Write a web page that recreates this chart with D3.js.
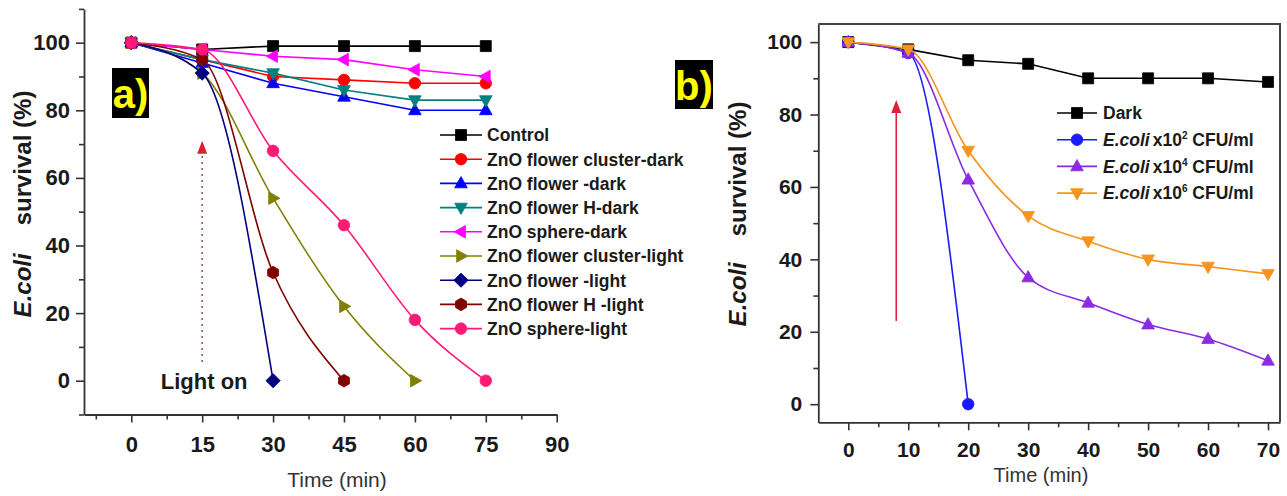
<!DOCTYPE html>
<html><head><meta charset="utf-8">
<script src="https://cdn.jsdelivr.net/npm/d3@7"></script>
<style>
body{margin:0;background:#fff;}
svg{display:block;background:#fff;}
text{font-family:"Liberation Sans",Arial,sans-serif;}
</style>
</head><body>
<svg id="chart" width="1287" height="496"></svg>
<script>
// ---------------- DATA : panel a ----------------
const timesA = [0, 15, 30, 45, 60, 75];
const control      = [100, 98, 99, 99, 99, 99];
const clusterDark  = [100, 95, 90, 89, 88, 88];
const flowerDark   = [100, 94, 88, 84, 80, 80];
const flowerHDark  = [100, 95, 91, 86, 83, 83];
const sphereDark   = [100, 98, 96, 95, 92, 90];
const clusterLight = [100, 91, 54, 22, 0];
const flowerLight  = [100, 91, 0];
const flowerHLight = [100, 95, 32, 0];
const sphereLight  = [100, 98, 68, 46, 18, 0];
const namesA = ["Control", "ZnO flower cluster-dark", "ZnO flower -dark", "ZnO flower H-dark",
  "ZnO sphere-dark", "ZnO flower cluster-light", "ZnO flower -light", "ZnO flower H -light", "ZnO sphere-light"];
const colorsA = ["#000000", "#ff0000", "#0000ff", "#008080", "#ff00ff", "#808000", "#000080", "#800000", "#ff1a75"];
const markersA = ["square", "circle", "up", "down", "left", "right", "diamond", "hexagon", "circle"];
const smoothA = [false, false, false, false, false, true, true, true, true];
const tickAX = [0, 15, 30, 45, 60, 75, 90];
const minorAX = [-7.5, 7.5, 22.5, 37.5, 52.5, 67.5, 82.5];
const tickAY = [0, 20, 40, 60, 80, 100];
const minorAY = [-10, 10, 30, 50, 70, 90, 110];
const arrowA = {t: 15, from: 5.5, to: 71};

// ---------------- DATA : panel b ----------------
const timesB = [0, 10, 20, 30, 40, 50, 60, 70];
const dark   = [100, 98, 95, 94, 90, 90, 90, 89];
const ecoli2 = [100, 97, 0];
const ecoli4 = [100, 97, 62, 35, 28, 22, 18, 12];
const ecoli6 = [100, 98, 70, 52, 45, 40, 38, 36];
const exponentsB = [null, "2", "4", "6"];
const colorsB = ["#000000", "#1a1aff", "#8a2be2", "#f7941d"];
const markersB = ["square", "circle", "up", "down"];
const smoothB = [false, true, true, true];
const tickBX = [0, 10, 20, 30, 40, 50, 60, 70];
const minorBX = [5, 15, 25, 35, 45, 55, 65];
const tickBY = [0, 20, 40, 60, 80, 100];
const minorBY = [10, 30, 50, 70, 90];
const arrowB = {t: 8, from: 23, to: 84};

// ---------------- helpers ----------------
const svg = d3.select("#chart");
const MR = 5.5;

function markerPath(type, r) {
  const p = d3.path();
  if (type === "square") { p.rect(-r, -r, 2 * r, 2 * r); }
  else if (type === "circle") { p.moveTo(r * 1.05, 0); p.arc(0, 0, r * 1.05, 0, 2 * Math.PI); }
  else if (type === "up") { p.moveTo(0, -r * 1.25); p.lineTo(r * 1.15, r * 0.8); p.lineTo(-r * 1.15, r * 0.8); p.closePath(); }
  else if (type === "down") { p.moveTo(0, r * 1.25); p.lineTo(r * 1.15, -r * 0.8); p.lineTo(-r * 1.15, -r * 0.8); p.closePath(); }
  else if (type === "left") { p.moveTo(-r * 1.25, 0); p.lineTo(r * 0.8, -r * 1.15); p.lineTo(r * 0.8, r * 1.15); p.closePath(); }
  else if (type === "right") { p.moveTo(r * 1.25, 0); p.lineTo(-r * 0.8, -r * 1.15); p.lineTo(-r * 0.8, r * 1.15); p.closePath(); }
  else if (type === "diamond") { p.moveTo(0, -r * 1.3); p.lineTo(r * 1.3, 0); p.lineTo(0, r * 1.3); p.lineTo(-r * 1.3, 0); p.closePath(); }
  else if (type === "hexagon") {
    for (let i = 0; i < 6; i++) {
      const a = Math.PI / 6 + i * Math.PI / 3;
      const px = Math.cos(a) * r * 1.15, py = Math.sin(a) * r * 1.15;
      if (i === 0) p.moveTo(px, py); else p.lineTo(px, py);
    }
    p.closePath();
  }
  return p.toString();
}

function styleAxis(g, fontSize) {
  g.selectAll(".domain").attr("stroke", "#333").attr("stroke-width", 1.8);
  g.selectAll(".tick line").attr("stroke", "#333").attr("stroke-width", 1.6);
  g.selectAll(".tick text").attr("fill", "#1a1a1a").attr("font-size", fontSize)
    .attr("font-weight", "bold").attr("font-family", '"Liberation Sans", Arial, sans-serif');
}

function drawPanel(cfg) {
  const g = svg.append("g");
  const x = cfg.x, y = cfg.y;
  const gx = g.append("g").attr("transform", `translate(0,${y.range()[0]})`)
    .call(d3.axisBottom(x).tickValues(cfg.tickX).tickSize(8).tickSizeOuter(0).tickPadding(cfg.padX).tickFormat(d3.format("d")));
  styleAxis(gx, cfg.fs);
  const gxm = g.append("g").attr("transform", `translate(0,${y.range()[0]})`)
    .call(d3.axisBottom(x).tickValues(cfg.minorX).tickSize(5).tickFormat(() => ""));
  gxm.select(".domain").remove(); styleAxis(gxm, cfg.fs);
  const gy = g.append("g").attr("transform", `translate(${x.range()[0]},0)`)
    .call(d3.axisLeft(y).tickValues(cfg.tickY).tickSize(8).tickSizeOuter(0).tickPadding(cfg.padY).tickFormat(d3.format("d")));
  styleAxis(gy, cfg.fs);
  const gym = g.append("g").attr("transform", `translate(${x.range()[0]},0)`)
    .call(d3.axisLeft(y).tickValues(cfg.minorY).tickSize(5).tickFormat(() => ""));
  gym.select(".domain").remove(); styleAxis(gym, cfg.fs);
  if (cfg.frame) {
    g.append("path")
      .attr("d", `M${x.range()[0]},${y.range()[1]} H${x.range()[1]} V${y.range()[0]}`)
      .attr("fill", "none").attr("stroke", "#444").attr("stroke-width", 2);
  }
  cfg.series.forEach(s => {
    const pts = s.values.map((v, i) => ({t: cfg.times[i], v}));
    const line = d3.line().x(d => x(d.t)).y(d => y(d.v))
      .curve(s.smooth ? d3.curveMonotoneX : d3.curveLinear);
    g.append("path").attr("d", line(pts)).attr("fill", "none")
      .attr("stroke", s.color).attr("stroke-width", 1.6);
    g.selectAll(null).data(pts).enter().append("path")
      .attr("d", markerPath(s.marker, MR))
      .attr("transform", d => `translate(${x(d.t)},${y(d.v)})`)
      .attr("fill", s.color).attr("stroke", s.color).attr("stroke-width", 0.8);
  });
  return g;
}

// ---------------- panel a ----------------
const xA = d3.scaleLinear().domain([-10, 90]).range([84, 556.7]);
const yA = d3.scaleLinear().domain([-10, 110]).range([414.5, 8.9]);
const valuesA = [control, clusterDark, flowerDark, flowerHDark, sphereDark, clusterLight, flowerLight, flowerHLight, sphereLight];
const seriesA = valuesA.map((v, i) => ({values: v, color: colorsA[i], marker: markersA[i], smooth: smoothA[i], name: namesA[i]}));

svg.append("line")
  .attr("x1", xA(arrowA.t)).attr("x2", xA(arrowA.t))
  .attr("y1", yA(arrowA.from)).attr("y2", yA(arrowA.to) + 12)
  .attr("stroke", "#a05050").attr("stroke-width", 1.6).attr("stroke-dasharray", "2,4");
svg.append("path")
  .attr("d", `M${xA(arrowA.t)},${yA(arrowA.to)} l5,13 h-10 Z`)
  .attr("fill", "#d9202e");

drawPanel({x: xA, y: yA, times: timesA, series: seriesA, tickX: tickAX, minorX: minorAX,
  tickY: tickAY, minorY: minorAY, padX: 14, padY: 6, frame: false, fs: 22});

svg.append("text").attr("x", xA(arrowA.t) + 2).attr("y", 389).attr("text-anchor", "middle")
  .attr("font-size", 22).attr("font-weight", "bold").attr("fill", "#1a1a1a").text("Light on");

const legA = svg.append("g");
seriesA.forEach((s, i) => {
  const ry = 135 + i * 24.2;
  legA.append("line").attr("x1", 440).attr("x2", 482).attr("y1", ry).attr("y2", ry)
    .attr("stroke", s.color).attr("stroke-width", 1.6);
  legA.append("path").attr("d", markerPath(s.marker, MR)).attr("transform", `translate(461,${ry})`)
    .attr("fill", s.color).attr("stroke", s.color).attr("stroke-width", 0.8);
  legA.append("text").attr("x", 487).attr("y", ry + 6.3).attr("font-size", 17.5)
    .attr("font-weight", "bold").attr("fill", "#1a1a1a").text(s.name);
});

svg.append("text").attr("x", 337).attr("y", 487).attr("text-anchor", "middle")
  .attr("font-size", 21).attr("fill", "#333").text("Time (min)");
const ylA = svg.append("text").attr("transform", "translate(31,204) rotate(-90)")
  .attr("text-anchor", "middle").attr("font-size", 24).attr("font-weight", "bold").attr("fill", "#1a1a1a");
ylA.append("tspan").attr("font-style", "italic").text("E.coli");
ylA.append("tspan").attr("dx", 28).text("survival (%)");

svg.append("rect").attr("x", 112).attr("y", 68).attr("width", 37).attr("height", 50).attr("fill", "#000");
svg.append("text").attr("x", 130.5).attr("y", 108).attr("text-anchor", "middle")
  .attr("font-family", '"Liberation Serif", "Times New Roman", serif').attr("font-size", 40)
  .attr("font-weight", "bold").attr("fill", "#ffff00").text("a)");

// ---------------- panel b ----------------
const xB = d3.scaleLinear().domain([-5, 72]).range([818.3, 1280]);
const yB = d3.scaleLinear().domain([-5, 105]).range([422.3, 24]);
const valuesB = [dark, ecoli2, ecoli4, ecoli6];
const seriesB = valuesB.map((v, i) => ({values: v, color: colorsB[i], marker: markersB[i], smooth: smoothB[i]}));

svg.append("line")
  .attr("x1", xB(arrowB.t)).attr("x2", xB(arrowB.t))
  .attr("y1", yB(arrowB.from)).attr("y2", yB(arrowB.to) + 8)
  .attr("stroke", "#e0203a").attr("stroke-width", 1.6);
svg.append("path")
  .attr("d", `M${xB(arrowB.t)},${yB(arrowB.to)} l5,13 h-10 Z`)
  .attr("fill", "#e0203a");

drawPanel({x: xB, y: yB, times: timesB, series: seriesB, tickX: tickBX, minorX: minorBX,
  tickY: tickBY, minorY: minorBY, padX: 12, padY: 8, frame: true, fs: 21});

const legB = svg.append("g");
seriesB.forEach((s, i) => {
  const ry = 113 + i * 26.7;
  legB.append("line").attr("x1", 1057).attr("x2", 1097).attr("y1", ry).attr("y2", ry)
    .attr("stroke", s.color).attr("stroke-width", 1.6);
  legB.append("path").attr("d", markerPath(s.marker, MR)).attr("transform", `translate(1077,${ry})`)
    .attr("fill", s.color).attr("stroke", s.color).attr("stroke-width", 0.8);
  const t = legB.append("text").attr("x", 1103).attr("y", ry + 6.3).attr("font-size", 17.5)
    .attr("font-weight", "bold").attr("fill", "#1a1a1a");
  if (exponentsB[i] === null) {
    t.text("Dark");
  } else {
    t.append("tspan").attr("font-style", "italic").text("E.coli");
    t.append("tspan").attr("dx", 3).text("x10");
    t.append("tspan").attr("font-size", 10).attr("dy", -7).text(exponentsB[i]);
    t.append("tspan").attr("dy", 7).text(" CFU/ml");
  }
});

svg.append("text").attr("x", 1041).attr("y", 482).attr("text-anchor", "middle")
  .attr("font-size", 20).attr("fill", "#333").text("Time (min)");
const ylB = svg.append("text").attr("transform", "translate(745.5,214) rotate(-90)")
  .attr("text-anchor", "middle").attr("font-size", 24).attr("font-weight", "bold").attr("fill", "#1a1a1a");
ylB.append("tspan").attr("font-style", "italic").text("E.coli");
ylB.append("tspan").attr("dx", 26).text("survival (%)");

svg.append("rect").attr("x", 675).attr("y", 60).attr("width", 38).attr("height", 49).attr("fill", "#000");
svg.append("text").attr("x", 694).attr("y", 100).attr("text-anchor", "middle")
  .attr("font-family", '"Liberation Serif", "Times New Roman", serif').attr("font-size", 40)
  .attr("font-weight", "bold").attr("fill", "#ffff00").text("b)");
</script>
</body></html>
